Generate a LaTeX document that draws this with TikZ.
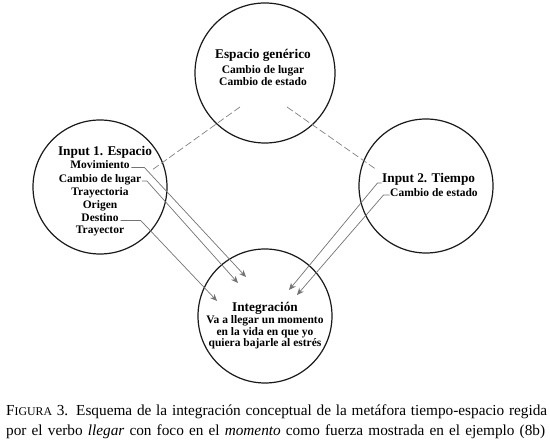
\documentclass[tikz,border=0pt]{standalone}
\usepackage{fontspec}
\setmainfont{Liberation Serif}
\usetikzlibrary{arrows.meta}
\begin{document}
\begin{tikzpicture}[x=1pt,y=-1pt,
  circ/.style={draw=black!90, line width=1.2pt, circle, inner sep=0pt},
  head/.style={font=\fontsize{13.3}{15}\selectfont\bfseries, inner sep=0pt, anchor=base},
  item/.style={font=\fontsize{11.5}{13}\selectfont\bfseries, inner sep=0pt, anchor=base},
  conn/.style={draw=black!55, line width=0.7pt, -{Stealth[length=7pt,width=6pt]}},
  dashline/.style={draw=black!50, line width=0.7pt, dash pattern=on 7pt off 3pt},
  captext/.style={font=\fontsize{15.3}{17}\selectfont, inner sep=0pt, anchor=base west}]

\useasboundingbox (0,0) rectangle (550,446);

% circles
\node[circ, minimum size=140pt] (gen) at (265,73) {};
\node[circ, minimum size=134pt] (in1) at (100,187) {};
\node[circ, minimum size=134pt] (in2) at (426,186) {};
\node[circ, minimum size=134pt] (int) at (265,316) {};

% generic space
\node[head] (genh) at (263,59) {Espacio genérico};
\node[item] (gen1) at (263,74) {Cambio de lugar};
\node[item] (gen2) at (263,86) {Cambio de estado};

% input 1
\node[head] (i1h) at (105,156) {Input 1. Espacio};
\node[item] (mov) at (100,169) {Movimiento};
\node[item] (cdl) at (100,182.5) {Cambio de lugar};
\node[item] (tra) at (100,196) {Trayectoria};
\node[item] (ori) at (100,208.5) {Origen};
\node[item] (des) at (100,222) {Destino};
\node[item] (trr) at (100,234) {Trayector};

% input 2
\node[head, anchor=base west] (i2h) at (382,183) {Input 2. Tiempo};
\node[item, anchor=base west] (cde) at (390,196.5) {Cambio de estado};

% integration
\node[head] (inth) at (265,311.5) {Integración};
\node[item] (int1) at (265,324) {Va a llegar un momento};
\node[item] (int2) at (265,335.5) {en la vida en que yo};
\node[item] (int3) at (265,347) {quiera bajarle al estrés};

% arrow tips
\coordinate (t1) at (246,277);
\coordinate (t2) at (238,283);
\coordinate (t3) at (217,301);
\coordinate (t4) at (289,290);
\coordinate (t5) at (297,295);

% dashed links
\coordinate (dl1) at (240,107);
\coordinate (dl2) at (152,170);
\coordinate (dr1) at (287,107);
\coordinate (dr2) at (377,170);
\draw[dashline] (dl1) -- (dl2);
\draw[dashline] (dr1) -- (dr2);

% connectors
\draw[conn] ([xshift=1.5pt,yshift=1.5pt]mov.base east) -- ++(13,0) -- (t1);
\draw[conn] ([xshift=0.5pt,yshift=1.5pt]cdl.base east) -- ++(5,0) -- (t2);
\draw[conn] ([xshift=2pt,yshift=1.5pt]des.base east) -- ++(20,0) -- (t3);
\draw[conn] ([xshift=-0.5pt]i2h.base west) -- ++(-4,0) -- (t4);
\draw[conn] ([xshift=-0.5pt,yshift=1.5pt]cde.base west) -- ++(-6,0) -- (t5);

% caption
\node[captext] (cap1) at (6,416) {\makebox[541pt][s]{F{\fontsize{11.8}{13}\selectfont IGURA} 3. Esquema de la integración conceptual de la metáfora tiempo-espacio regida}};
\node[captext] (cap2) at (6,436) {\makebox[539pt][s]{por el verbo \textit{llegar} con foco en el \textit{momento} como fuerza mostrada en el ejemplo (8b)}};
\end{tikzpicture}
\end{document}
